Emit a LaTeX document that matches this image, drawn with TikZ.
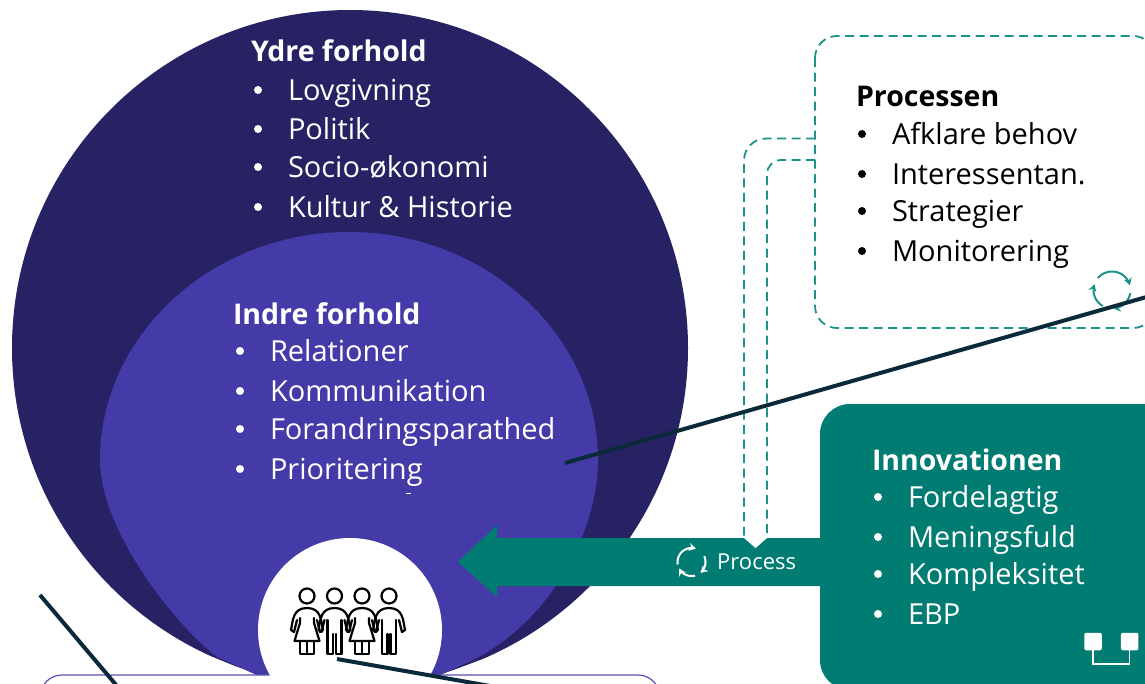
\documentclass[tikz,border=0pt]{standalone}
\usepackage{fontspec}
\setmainfont{Open Sans}
\usetikzlibrary{arrows.meta}
\definecolor{outerc}{HTML}{272264}
\definecolor{innerc}{HTML}{443BA8}
\definecolor{greenc}{HTML}{007C72}
\definecolor{dashc}{HTML}{1C9388}
\definecolor{linec}{HTML}{0A2A3A}
\definecolor{boxc}{HTML}{5A50B5}
\newcommand{\bodyfont}{\fontsize{29}{32}\selectfont}
\newcommand{\headfont}{\fontsize{28.5}{32}\selectfont\bfseries}
\tikzset{
 x=1pt,y=-1pt,
 txt/.style={anchor=base west,inner sep=0pt,outer sep=0pt,font=\bodyfont},
 hd/.style={anchor=base west,inner sep=0pt,outer sep=0pt,font=\headfont},
 dashline/.style={draw=dashc,line width=1.8pt,dash pattern=on 9pt off 5.5pt},
 dark/.style={draw=linec,line width=4pt},
 person/.style={draw=black,line width=2.2pt,line join=round,line cap=round},
 cyc/.style={line width=2pt,-{Stealth[length=7pt,width=8pt]}},
 sqbox/.style={fill=white,rounded corners=2pt,minimum size=17.5pt,inner sep=0pt},
}
% centre x, centre y, radius, colour, list of start/end angles (clockwise)
\newcommand{\cycleicon}[5]{%
 \foreach \s/\e in {#5}{
  \draw[cyc,#4] plot[domain={\s}:{\e},samples=16,smooth] ({#1+#3*cos(\x)},{#2-#3*sin(\x)});
 }}
\newcommand{\female}[2]{%
 \begin{scope}[shift={(#1,#2)}]
 \draw[person] (0,0) circle (7.5);
 \draw[person] (-13,36) -- (-16,34) .. controls (-14,24) and (-14,12) .. (0,12) .. controls (14,12) and (14,24) .. (16,34) -- (13,36) -- (10,24);
 \draw[person] (-10,24) -- (-13,36);
 \draw[person] (-7,22) -- (-7,27) -- (-12.5,45) -- (12.5,45) -- (7,27) -- (7,22);
 \draw[person] (-7,45) -- (-7,58) -- (7,58) -- (7,45) (0,45) -- (0,58);
 \end{scope}}
\newcommand{\male}[2]{%
 \begin{scope}[shift={(#1,#2)}]
 \draw[person] (0,0) circle (7.5);
 \draw[person] (-13,36) -- (-16,34) .. controls (-14,24) and (-14,12) .. (0,12) .. controls (14,12) and (14,24) .. (16,34) -- (13,36) -- (10,24);
 \draw[person] (-10,24) -- (-13,36);
 \draw[person] (-7,24) -- (-7,58) -- (-1.5,58) -- (-1.5,38) (1.5,38) -- (1.5,58) -- (7,58) -- (7,24);
 \end{scope}}
\begin{document}
\begin{tikzpicture}
\useasboundingbox (0,0) rectangle (1145,683);
\fill[white] (0,0) rectangle (1145,683);
% outer circle with its pointed foot
\begin{scope}
 \clip (0,0) -- (1145,0) -- (1145,660) -- (480,660) -- (440,675) -- (257,675) -- (213,657) -- (0,657) -- cycle;
 \fill[outerc] (350,348) circle (338);
\end{scope}
\fill[outerc] (213,655) -- (257,675) -- (440,675) -- (480,658) -- cycle;
% inner teardrop
\fill[innerc] (257,675) -- (217,657)
  .. controls (175,625) and (100,530) .. (100,460)
  .. controls (100,335) and (212,232) .. (349,232)
  .. controls (486,232) and (598,335) .. (598,460)
  .. controls (598,530) and (552,620) .. (473,660)
  -- (440,675) -- cycle;
% arrow
\fill[greenc] (458,562) -- (497,525) -- (497,538) -- (830,538) -- (830,586) -- (497,586) -- (497,597) -- cycle;
% bottom box
\draw[boxc,line width=1.2pt,fill=white,rounded corners=22pt] (40,720) -- (40,675) -- (660,675) -- (660,720);
% white circle
\fill[white] (350,630) circle (92);
% innovation box
\fill[greenc,rounded corners=30pt] (820,404) rectangle (1180,690);
% Process dashed box
\draw[dashline,rounded corners=22pt] (815,36) rectangle (1155,328);
\coordinate (pa) at (815,138.5);
\coordinate (pb) at (815,160);
\coordinate (ga) at (744,538);
\coordinate (gb) at (767,538);
\draw[dashline,rounded corners=22pt] (pa) -- (744,138.5) -- (ga);
\draw[dashline,rounded corners=14pt] (pb) -- (767,160) -- (gb);
\fill[white] (ga) -- (gb) -- (755.5,548) -- cycle;
% icons
\cycleicon{691.5}{562}{14}{white}{190/72,25/-50,-75/-152}
\cycleicon{1112}{290}{18.5}{dashc}{140/15,-10/-85,-120/-198}
\node[sqbox] (sq1) at (1093,641.5) {};
\node[sqbox] (sq2) at (1129.7,641.5) {};
\draw[white,line width=1.2pt] (sq1.south) |- (1111,664) -| (sq2.south);
% people
\female{307}{596}
\male{334.5}{596}
\female{362}{596}
\male{389}{596}
% text
\node[hd,white] (y0) at (251,61) {Ydre forhold};
\foreach \n/\yy/\t in {y1/100/Lovgivning,y2/139/Politik,y3/177/Socio-økonomi,y4/217/Kultur \& Historie}{
 \node[txt,white] (\n) at (288,\yy) {\t};
 \fill[white] (258,\yy-10) circle (4);
}
\node[hd,white] (i0) at (233,324) {Indre forhold};
\foreach \n/\yy/\t in {i1/361/Relationer,i2/401/Kommunikation,i3/439/Forandringsparathed,i4/479/Prioritering}{
 \node[txt,white] (\n) at (270,\yy) {\t};
 \fill[white] (240,\yy-10) circle (4);
}
\fill[white] (406,492.5) rectangle (411,493.5);
\node[hd,black] (p0) at (856,106) {Processen};
\foreach \n/\yy/\t in {p1/144/Afklare behov,p2/184/Interessentan.,p3/221/Strategier,p4/261/Monitorering}{
 \node[txt,black] (\n) at (892,\yy) {\t};
 \fill[black] (862,\yy-10) circle (4);
}
\node[hd,white] (n0) at (872,470) {Innovationen};
\foreach \n/\yy/\t in {n1/507/Fordelagtig,n2/547/Meningsfuld,n3/584/Kompleksitet,n4/624/EBP}{
 \node[txt,white] (\n) at (908,\yy) {\t};
 \fill[white] (878,\yy-10) circle (4);
}
\node[anchor=base west,inner sep=0pt,white,font=\fontsize{22}{26}\selectfont] (proc) at (717,569) {Process};
% dark lines
\coordinate (a1) at (565,463); \coordinate (a2) at (1150,296);
\coordinate (b1) at (40,595); \coordinate (b2) at (117,686);
\coordinate (c1) at (337,659); \coordinate (c2) at (490,686);
\draw[dark] (a1) -- (a2);
\draw[dark] (b1) -- (b2);
\draw[dark] (c1) -- (c2);
\end{tikzpicture}
\end{document}
